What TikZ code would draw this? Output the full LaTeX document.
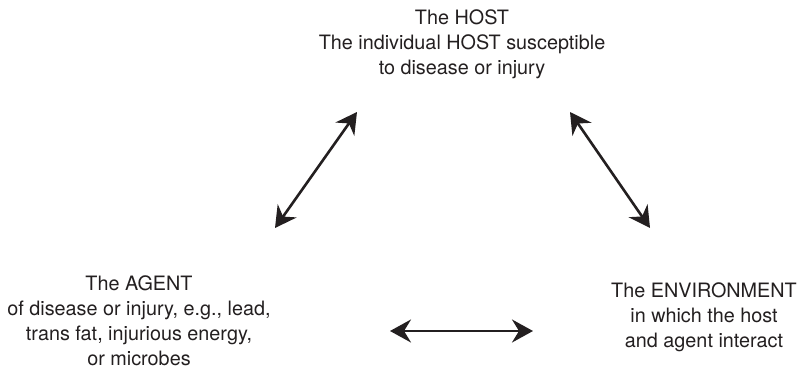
\documentclass[tikz,border=0pt]{standalone}
\usepackage{fontspec}
\setmainfont{TeX Gyre Heros}
\usetikzlibrary{arrows.meta}
\definecolor{ink}{HTML}{231F20}
\tikzset{
  lbl/.style={align=center, inner sep=0pt, text=ink, font=\fontsize{19.8}{25}\selectfont, anchor=base},
  dbl/.style={draw=ink, line width=2.6pt, {Stealth[length=21pt,width=23pt,inset=7pt]}-{Stealth[length=21pt,width=23pt,inset=7pt]}}
}
\begin{document}
\begin{tikzpicture}[x=1pt,y=1pt]
\useasboundingbox (0,0) rectangle (800,-371);
\node[lbl] (host) at (462,-75) {The HOST\\The individual HOST susceptible\\to disease or injury};
\node[lbl] (agent) at (139,-365) {The AGENT\\of disease or injury, e.g., lead,\\trans fat, injurious energy,\\or microbes};
\node[lbl] (env) at (704,-347) {The ENVIRONMENT\\in which the host\\and agent interact};
\coordinate (ha) at (357,-112);
\coordinate (ah) at (275,-228);
\coordinate (he) at (570,-112);
\coordinate (eh) at (650,-228);
\coordinate (ae) at (390,-331);
\coordinate (ea) at (533,-331);
\draw[dbl] (ha) -- (ah);
\draw[dbl] (he) -- (eh);
\draw[dbl] (ae) -- (ea);
\end{tikzpicture}
\end{document}
